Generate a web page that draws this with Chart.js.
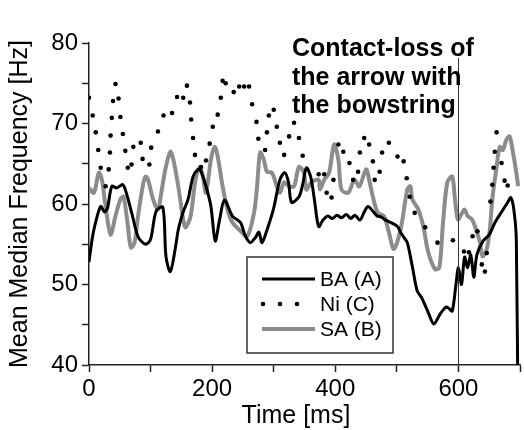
<!DOCTYPE html>
<html>
<head>
<meta charset="utf-8">
<script src="https://cdn.jsdelivr.net/npm/chart.js@4.4.0/dist/chart.umd.min.js"></script>
<style>
  html, body { margin: 0; padding: 0; background: #fff; overflow: hidden; }
  #wrap { width: 524px; height: 430px; }
</style>
</head>
<body>
<div id="wrap"><canvas id="chart" width="524" height="430"></canvas></div>
<script>
// BA (A) - black solid
const baTime = [0, 5, 10, 19, 25, 30, 37, 45, 55, 62, 70, 80, 92, 100, 109, 120, 125, 132, 140, 145,
  153, 161, 169, 177, 181, 190, 198, 205, 212, 220, 233, 246, 254, 262, 270, 276, 281, 290, 300, 310,
  318, 324, 329, 341, 347, 353, 360, 366, 373, 380, 388, 395, 403, 410, 418, 425, 432, 440, 447, 453,
  460, 468, 474, 482, 490, 501, 506, 512, 517, 525, 533, 540, 550, 560, 570, 580, 585, 590, 596, 600,
  605, 610, 615, 620, 625, 630, 640, 650, 660, 670, 680, 685, 690, 694, 697];
const baValue = [52.8, 55.6, 57.5, 59.7, 59.0, 59.5, 62.2, 62.0, 62.4, 61.0, 58.7, 55.9, 55.0, 55.6, 59.1, 59.6, 53.5, 51.6, 54.4, 56.8,
  59.0, 60.6, 63.4, 64.3, 64.2, 62.2, 59.7, 55.4, 58.0, 60.5, 58.5, 57.7, 56.0, 55.2, 55.8, 56.5, 55.2, 57.0, 59.5, 63.0,
  63.9, 62.7, 60.2, 60.9, 62.4, 64.5, 63.4, 60.6, 57.2, 58.0, 58.5, 58.2, 58.6, 58.3, 58.7, 58.2, 58.6, 58.0, 59.0, 59.7,
  59.2, 58.5, 58.4, 58.0, 57.7, 57.2, 56.5, 55.8, 55.2, 52.3, 49.2, 48.4, 46.7, 45.1, 46.3, 47.2, 47.0, 46.7, 50.0, 52.1,
  50.0, 53.4, 52.1, 53.7, 50.9, 53.7, 55.4, 56.2, 57.8, 59.0, 60.2, 60.8, 59.3, 55.6, 30];

// Ni (C) - dotted
const niTime = [0, 6, 11, 15, 19, 27, 32, 34, 35, 37, 39, 43, 48, 51, 55, 59, 63, 69, 72, 84,
  87, 98, 101, 112, 121, 135, 143, 153, 159, 164, 166, 169, 172, 182, 190, 196, 201, 209, 214, 217,
  222, 235, 244, 252, 260, 265, 272, 275, 286, 289, 292, 300, 305, 310, 317, 325, 333, 341, 347, 373,
  382, 386, 394, 397, 405, 413, 423, 429, 437, 440, 447, 455, 461, 464, 472, 476, 487, 501, 511, 516,
  521, 529, 546, 566, 591, 609, 617, 623, 631, 638, 643, 646, 652, 655, 657, 659, 662, 670, 675, 680];
const niValue = [73.2, 71.0, 68.9, 66.7, 64.5, 62.2, 64.3, 66.4, 68.5, 70.7, 72.8, 74.9, 73.1, 70.8, 68.7, 66.6, 64.5, 64.9, 67.1, 67.6,
  65.6, 64.9, 67.0, 69.0, 71.0, 71.3, 73.3, 73.2, 74.7, 72.6, 70.5, 68.2, 66.1, 64.6, 65.4, 67.5, 69.6, 71.1, 73.2, 75.3,
  75.0, 73.9, 74.6, 74.6, 74.6, 72.4, 70.2, 68.1, 66.7, 68.9, 71.0, 71.7, 69.6, 67.6, 66.1, 68.4, 70.1, 68.2, 66.0, 63.7,
  63.7, 61.4, 60.8, 63.0, 67.4, 66.5, 65.1, 63.0, 64.0, 66.4, 68.2, 67.4, 65.3, 63.0, 64.0, 66.4, 67.6, 65.9, 65.3, 63.2,
  60.9, 58.9, 57.1, 55.2, 55.5, 54.1, 54.0, 56.0, 56.6, 52.5, 51.6, 53.9, 60.3, 62.4, 64.5, 66.5, 68.9, 65.1, 62.9, 62.3];

// SA (B) - grey solid
const saTime = [0, 8, 16, 21, 27, 35, 43, 51, 56, 62, 68, 74, 80, 88, 92, 96, 104, 112, 117, 124,
  132, 137, 145, 153, 157, 165, 173, 180, 185, 190, 198, 204, 209, 217, 225, 233, 244, 257, 268, 273,
  278, 284, 289, 297, 305, 310, 317, 325, 333, 341, 349, 353, 361, 373, 375, 382, 390, 398, 405, 410,
  421, 431, 439, 450, 455, 461, 469, 479, 487, 495, 506, 517, 522, 525, 535, 543, 551, 562, 569, 575,
  582, 590, 594, 599, 606, 610, 615, 622, 627, 635, 639, 646, 651, 655, 662, 667, 672, 678, 683, 688,
  694, 697];
const saValue = [62.0, 61.4, 63.9, 63.0, 59.7, 56.2, 58.5, 60.6, 60.9, 58.0, 54.6, 55.2, 58.7, 62.5, 63.4, 63.0, 60.6, 59.3, 61.2, 64.3,
  66.5, 65.5, 62.2, 58.1, 57.1, 58.5, 63.0, 64.6, 63.4, 61.4, 65.5, 67.1, 65.9, 62.2, 59.3, 57.7, 56.8, 56.0, 58.9, 62.2,
  66.4, 65.5, 64.0, 63.9, 62.2, 61.4, 62.7, 62.2, 62.2, 64.6, 63.9, 61.8, 62.7, 63.0, 61.8, 63.0, 63.9, 67.4, 65.5, 61.8,
  61.4, 63.0, 62.2, 64.3, 63.0, 60.9, 58.9, 58.5, 56.5, 54.4, 56.8, 61.8, 62.2, 60.6, 59.3, 57.2, 54.0, 51.9, 52.1, 57.7,
  62.7, 63.4, 60.9, 58.1, 58.9, 59.3, 58.5, 58.1, 57.2, 55.2, 53.5, 54.4, 56.8, 60.6, 64.6, 67.1, 66.7, 68.0, 68.4, 66.7,
  63.9, 62.2];

const seriesLabels = ["BA (A)", "Ni (C)", "SA (B)"];
const xLabelled = [0, 200, 400, 600];
const yLabelled = [40, 50, 60, 70, 80];
const contactLossTime = 600;
const noteLines = ["Contact-loss of", "the arrow with", "the bowstring"];

const FONT = "'Liberation Sans', Arial, Helvetica, sans-serif";
const GREY = "#8c8c8c";

const toPoints = (ts, vs) => ts.map((t, i) => ({ x: t, y: vs[i] }));

const overlay = {
  id: "overlay",
  afterDatasetsDraw(chart) {
    const { ctx, chartArea, scales } = chart;
    ctx.save();

    // contact-loss marker
    const xm = Math.round(scales.x.getPixelForValue(contactLossTime)) + 0.5;
    ctx.strokeStyle = "#333";
    ctx.lineWidth = 1;
    ctx.beginPath();
    ctx.moveTo(xm, 58);
    ctx.lineTo(xm, chartArea.bottom);
    ctx.stroke();

    ctx.fillStyle = "#000";
    ctx.font = `bold 25px ${FONT}`;
    ctx.textBaseline = "alphabetic";
    noteLines.forEach((line, i) => ctx.fillText(line, 292, 56 + i * 28.5));

    // x title, sits a little left of the axis centre in the original
    ctx.font = `25px ${FONT}`;
    ctx.textAlign = "center";
    ctx.fillText("Time [ms]", 296, 423);
    ctx.textAlign = "left";

    // legend box
    const bx = 247, by = 257, bw = 146, bh = 96;
    ctx.fillStyle = "#fff";
    ctx.fillRect(bx, by, bw, bh);
    ctx.strokeStyle = "#333";
    ctx.lineWidth = 1.5;
    ctx.strokeRect(bx, by, bw, bh);

    const rows = [279, 304, 329];
    ctx.strokeStyle = "#000";
    ctx.lineWidth = 3;
    ctx.beginPath();
    ctx.moveTo(262, rows[0]);
    ctx.lineTo(315, rows[0]);
    ctx.stroke();

    ctx.fillStyle = "#000";
    [263, 280, 297].forEach((x) => {
      ctx.beginPath();
      ctx.arc(x, rows[1], 2.3, 0, Math.PI * 2);
      ctx.fill();
    });

    ctx.strokeStyle = GREY;
    ctx.lineWidth = 4;
    ctx.beginPath();
    ctx.moveTo(262, rows[2]);
    ctx.lineTo(315, rows[2]);
    ctx.stroke();

    ctx.fillStyle = "#000";
    ctx.font = `21px ${FONT}`;
    ctx.textBaseline = "middle";
    seriesLabels.forEach((label, i) => ctx.fillText(label, 320, rows[i] + 1));

    ctx.restore();
  },
};

new Chart(document.getElementById("chart"), {
  type: "line",
  data: {
    datasets: [
      {
        label: seriesLabels[0],
        data: toPoints(baTime, baValue),
        borderColor: "#000",
        borderWidth: 3,
        pointRadius: 0,
        tension: 0.3,
      },
      {
        label: seriesLabels[1],
        data: toPoints(niTime, niValue),
        showLine: false,
        pointRadius: 2.3,
        pointBorderWidth: 0,
        pointBackgroundColor: "#000",
        borderColor: "#000",
      },
      {
        label: seriesLabels[2],
        data: toPoints(saTime, saValue),
        borderColor: GREY,
        borderWidth: 4,
        pointRadius: 0,
        tension: 0.3,
      },
    ],
  },
  options: {
    responsive: false,
    animation: false,
    layout: { padding: { top: 43, right: 0, bottom: 0, left: 0 } },
    plugins: { legend: { display: false }, tooltip: { enabled: false } },
    scales: {
      x: {
        type: "linear",
        min: 0,
        max: 700,
        afterFit: (scale) => { scale.height = 65; },
        ticks: {
          stepSize: 100,
          autoSkip: false,
          maxRotation: 0,
          padding: 3,
          color: "#000",
          font: { family: FONT, size: 24 },
          callback: (v) => (xLabelled.includes(v) ? String(v) : ""),
        },
        grid: { drawOnChartArea: false, tickLength: 7, tickColor: "#222", tickWidth: 1.5 },
        border: { color: "#222", width: 1.5 },
      },
      y: {
        min: 40,
        max: 80,
        afterFit: (scale) => { scale.width = 89; },
        ticks: {
          stepSize: 5,
          autoSkip: false,
          padding: 4,
          color: "#000",
          font: { family: FONT, size: 24 },
          callback: (v) => (yLabelled.includes(v) ? String(v) : ""),
        },
        grid: { drawOnChartArea: false, tickLength: 7, tickColor: "#222", tickWidth: 1.5 },
        border: { color: "#222", width: 1.5 },
        title: {
          display: true,
          text: "Mean Median Frequency [Hz]",
          color: "#000",
          font: { family: FONT, size: 25, lineHeight: 1 },
          padding: { top: 8, bottom: 0 },
        },
      },
    },
  },
  plugins: [overlay],
});
</script>
</body>
</html>
